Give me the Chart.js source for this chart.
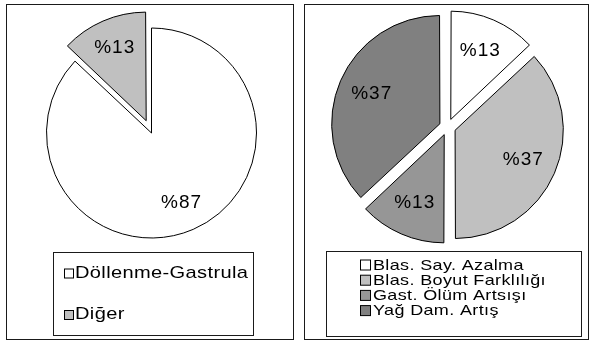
<!DOCTYPE html>
<html>
<head>
<meta charset="utf-8">
<script src="https://cdn.jsdelivr.net/npm/chart.js@4.4.1/dist/chart.umd.min.js"></script>
<style>
  html, body { margin: 0; padding: 0; background: #fff; }
  body { width: 589px; height: 340px; position: relative; overflow: hidden; }
  .cerceve { position: absolute; box-sizing: border-box; border: 1px solid #1a1a1a; }
  canvas { position: absolute; }
</style>
</head>
<body>
<div class="cerceve" style="left:6px;top:4px;width:288px;height:336px"></div>
<div class="cerceve" style="left:304px;top:4px;width:285px;height:336px"></div>
<canvas id="sol" width="288" height="336" style="left:6px;top:4px"></canvas>
<canvas id="sag" width="285" height="336" style="left:304px;top:4px"></canvas>
<script>
// veriler
const solEtiketler = ["Döllenme-Gastrula", "Diğer"];
const solDegerler = [87, 13];
const solRenkler = ["#ffffff", "#c0c0c0"];

const sagEtiketler = ["Blas. Say. Azalma", "Blas. Boyut Farklılığı", "Gast. Ölüm Artsışı", "Yağ Dam. Artış"];
const sagDegerler = [13, 37, 13, 37];
const sagRenkler = ["#ffffff", "#c0c0c0", "#969696", "#808080"];

// chart.js dilimi offset/4*(1+fix) kadar kaydiriyor; istenen piksele cevir
function kaymaOrani(aci) {
  return (1 + (1 - Math.sin(Math.min(Math.PI, aci)))) / 4;
}
function patlatma(degerler, pikseller) {
  const top = degerler.reduce((a, b) => a + b, 0);
  return degerler.map((v, i) => pikseller[i] / kaymaOrani(v / top * 2 * Math.PI));
}

// dilimlerin ustune %deger yazisi
const yuzdeEtiketleri = {
  id: "yuzdeEtiketleri",
  afterDatasetsDraw(chart, args, o) {
    const ctx = chart.ctx;
    const ds = chart.data.datasets[0];
    const meta = chart.getDatasetMeta(0);
    ctx.save();
    ctx.font = o.font;
    ctx.letterSpacing = o.spacing;
    ctx.fillStyle = "#000";
    ctx.textAlign = "center";
    ctx.textBaseline = "middle";
    meta.data.forEach((arc, i) => {
      const p = arc.getProps(["x", "y", "startAngle", "endAngle", "outerRadius"]);
      const orta = (p.startAngle + p.endAngle) / 2;
      const kay = (ds.offset[i] || 0) * kaymaOrani(p.endAngle - p.startAngle);
      const r = kay + p.outerRadius * o.oran;
      ctx.fillText("%" + ds.data[i], p.x + Math.cos(orta) * r, p.y + Math.sin(orta) * r);
    });
    ctx.restore();
  }
};

// cerceveli lejant
const kutuluLejant = {
  id: "kutuluLejant",
  afterDraw(chart, args, o) {
    const ctx = chart.ctx;
    const ds = chart.data.datasets[0];
    ctx.save();
    ctx.lineWidth = 1;
    ctx.strokeStyle = "#1a1a1a";
    ctx.strokeRect(o.x + 0.5, o.y + 0.5, o.w, o.h);
    ctx.font = o.font;
    ctx.letterSpacing = o.spacing;
    ctx.textBaseline = "alphabetic";
    chart.data.labels.forEach((lbl, i) => {
      const by = o.baseline + i * o.gap;
      ctx.fillStyle = ds.backgroundColor[i];
      ctx.fillRect(o.swatchX + 0.5, by - o.swatch + 0.5, o.swatch, o.swatch);
      ctx.strokeStyle = "#000";
      ctx.strokeRect(o.swatchX + 0.5, by - o.swatch + 0.5, o.swatch, o.swatch);
      ctx.save();
      ctx.translate(o.textX, by);
      ctx.scale(o.stretch, 1);
      ctx.fillStyle = "#000";
      ctx.fillText(lbl, 0, 0);
      ctx.restore();
    });
    ctx.restore();
  }
};

new Chart(document.getElementById("sol"), {
  type: "pie",
  data: {
    labels: solEtiketler,
    datasets: [{
      data: solDegerler,
      backgroundColor: solRenkler,
      borderColor: "#000",
      borderWidth: 1,
      borderJoinStyle: "miter",
      radius: 105,
      offset: patlatma(solDegerler, [0, 17])
    }]
  },
  options: {
    responsive: false,
    animation: false,
    events: [],
    layout: { padding: { left: 3, right: 0, top: 0, bottom: 78 } },
    plugins: {
      legend: { display: false },
      tooltip: { enabled: false },
      yuzdeEtiketleri: { font: "19px 'Liberation Sans', Arial", spacing: "1px", oran: 0.72 },
      kutuluLejant: {
        x: 47, y: 248, w: 200, h: 83,
        swatchX: 58, swatch: 9, textX: 69,
        baseline: 273.5, gap: 41.5,
        font: "17px 'Liberation Sans', Arial", spacing: "0.3px", stretch: 1.18
      }
    }
  },
  plugins: [yuzdeEtiketleri, kutuluLejant]
});

new Chart(document.getElementById("sag"), {
  type: "pie",
  data: {
    labels: sagEtiketler,
    datasets: [{
      data: sagDegerler,
      backgroundColor: sagRenkler,
      borderColor: "#000",
      borderWidth: 1,
      borderJoinStyle: "miter",
      radius: 106,
      offset: patlatma(sagDegerler, [10.5, 10.5, 10.5, 10.5])
    }]
  },
  options: {
    responsive: false,
    animation: false,
    events: [],
    layout: { padding: { left: 2, right: 0, top: 0, bottom: 90 } },
    plugins: {
      legend: { display: false },
      tooltip: { enabled: false },
      yuzdeEtiketleri: { font: "19px 'Liberation Sans', Arial", spacing: "1px", oran: 0.68 },
      kutuluLejant: {
        x: 22, y: 247, w: 255, h: 85,
        swatchX: 56, swatch: 10, textX: 69,
        baseline: 265.5, gap: 15.2,
        font: "15px 'Liberation Sans', Arial", spacing: "0.3px", stretch: 1.2
      }
    }
  },
  plugins: [yuzdeEtiketleri, kutuluLejant]
});
</script>
</body>
</html>
